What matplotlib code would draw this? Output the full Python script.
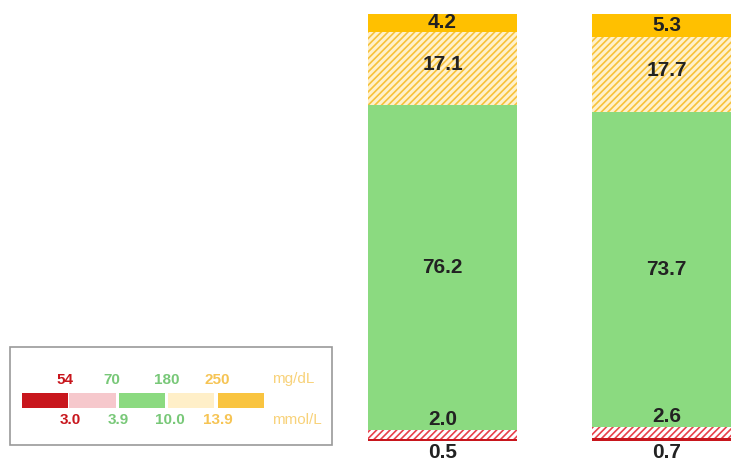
import matplotlib.pyplot as plt
from matplotlib.patches import Rectangle

# time in ranges (%) per bar, bottom to top
very_low = [0.5, 0.7]
low = [2.0, 2.6]
in_range = [76.2, 73.7]
high = [17.1, 17.7]
very_high = [4.2, 5.3]

mgdl_ticks = ['54', '70', '180', '250']
mmol_ticks = ['3.0', '3.9', '10.0', '13.9']

RED = '#C8161D'
GREEN = '#8BDA80'
ORANGE = '#FFC000'
PALE_YEL = '#FFF1CC'
HATCH_YEL = '#F7C23A'

plt.rcParams['font.family'] = ['Liberation Sans', 'DejaVu Sans']
plt.rcParams['hatch.linewidth'] = 1.2

fig = plt.figure(figsize=(7.31, 4.62), dpi=100)
W, H = 731, 462

# bars axis: bottom at y=441px, top at y=14px, bar 1 centered at 442.5px
ax = fig.add_axes([0, (H - 441) / H, 1, 427 / H])
ax.set_xlim(-442.5 / 224, (W - 442.5) / 224)
ax.set_ylim(0, 100)
ax.axis('off')

x = [0, 1]
bw = 149 / 224
b = [0, 0]
ax.bar(x, very_low, bw, bottom=b, color=RED, linewidth=0)
b = [b[i] + very_low[i] for i in range(2)]
ax.bar(x, low, bw, bottom=b, facecolor='white', edgecolor='#E8404A', hatch='/////', linewidth=0)
b = [b[i] + low[i] for i in range(2)]
ax.bar(x, in_range, bw, bottom=b, color=GREEN, linewidth=0)
b_in = b[:]
b = [b[i] + in_range[i] for i in range(2)]
ax.bar(x, high, bw, bottom=b, facecolor=PALE_YEL, edgecolor=HATCH_YEL, hatch='/////', linewidth=0)
b_hi = b[:]
b = [b[i] + high[i] for i in range(2)]
ax.bar(x, very_high, bw, bottom=b, color=ORANGE, linewidth=0)

fs = 15
tc = '#222222'
for i in range(2):
    top = 100 - very_high[i]
    ax.text(x[i], top + very_high[i] / 2, f'{very_high[i]:.1f}', ha='center', va='center',
            fontsize=fs, fontweight='bold', color=tc)
    ax.text(x[i], b_hi[i] + high[i] * 0.55, f'{high[i]:.1f}', ha='center', va='center',
            fontsize=fs, fontweight='bold', color=tc)
    ax.text(x[i], b_in[i] + in_range[i] / 2, f'{in_range[i]:.1f}', ha='center', va='center',
            fontsize=fs, fontweight='bold', color=tc)
    ax.text(x[i], b_in[i] + 0.3, f'{low[i]:.1f}', ha='center', va='bottom',
            fontsize=fs, fontweight='bold', color=tc)
    ax.text(x[i], -0.4, f'{very_low[i]:.1f}', ha='center', va='top',
            fontsize=fs, fontweight='bold', color=tc, clip_on=False)

# legend box in pixel coordinates
lg = fig.add_axes([0, 0, 1, 1])
lg.set_xlim(0, W)
lg.set_ylim(H, 0)
lg.axis('off')
lg.add_patch(Rectangle((10, 347), 322, 98, facecolor='white', edgecolor='#999999', linewidth=1.2))

seg_x = [22, 69, 119, 168, 218]
seg_w = [46, 47, 46, 46, 46]
seg_fc = [RED, '#F6C8CC', GREEN, '#FFEFC8', '#F9C440']
for sx, sw, fc in zip(seg_x, seg_w, seg_fc):
    lg.add_patch(Rectangle((sx, 393), sw, 15, facecolor=fc, edgecolor='none'))

top_cols = [RED, '#78C878', '#78C878', '#F6C454']
bot_cols = [RED, '#78C878', '#78C878', '#F6C454']
top_x = [65, 112, 167, 217]
bot_x = [70, 118, 170, 218]
for t, tx, c in zip(mgdl_ticks, top_x, top_cols):
    lg.text(tx, 380, t, ha='center', va='center', fontsize=11, fontweight='bold', color=c)
for t, tx, c in zip(mmol_ticks, bot_x, bot_cols):
    lg.text(tx, 420, t, ha='center', va='center', fontsize=11, fontweight='bold', color=c)
lg.text(293, 379, 'mg/dL', ha='center', va='center', fontsize=11, color='#F8D27A')
lg.text(297, 420, 'mmol/L', ha='center', va='center', fontsize=11, color='#F8D27A')

fig.savefig('out.png', dpi=100)
